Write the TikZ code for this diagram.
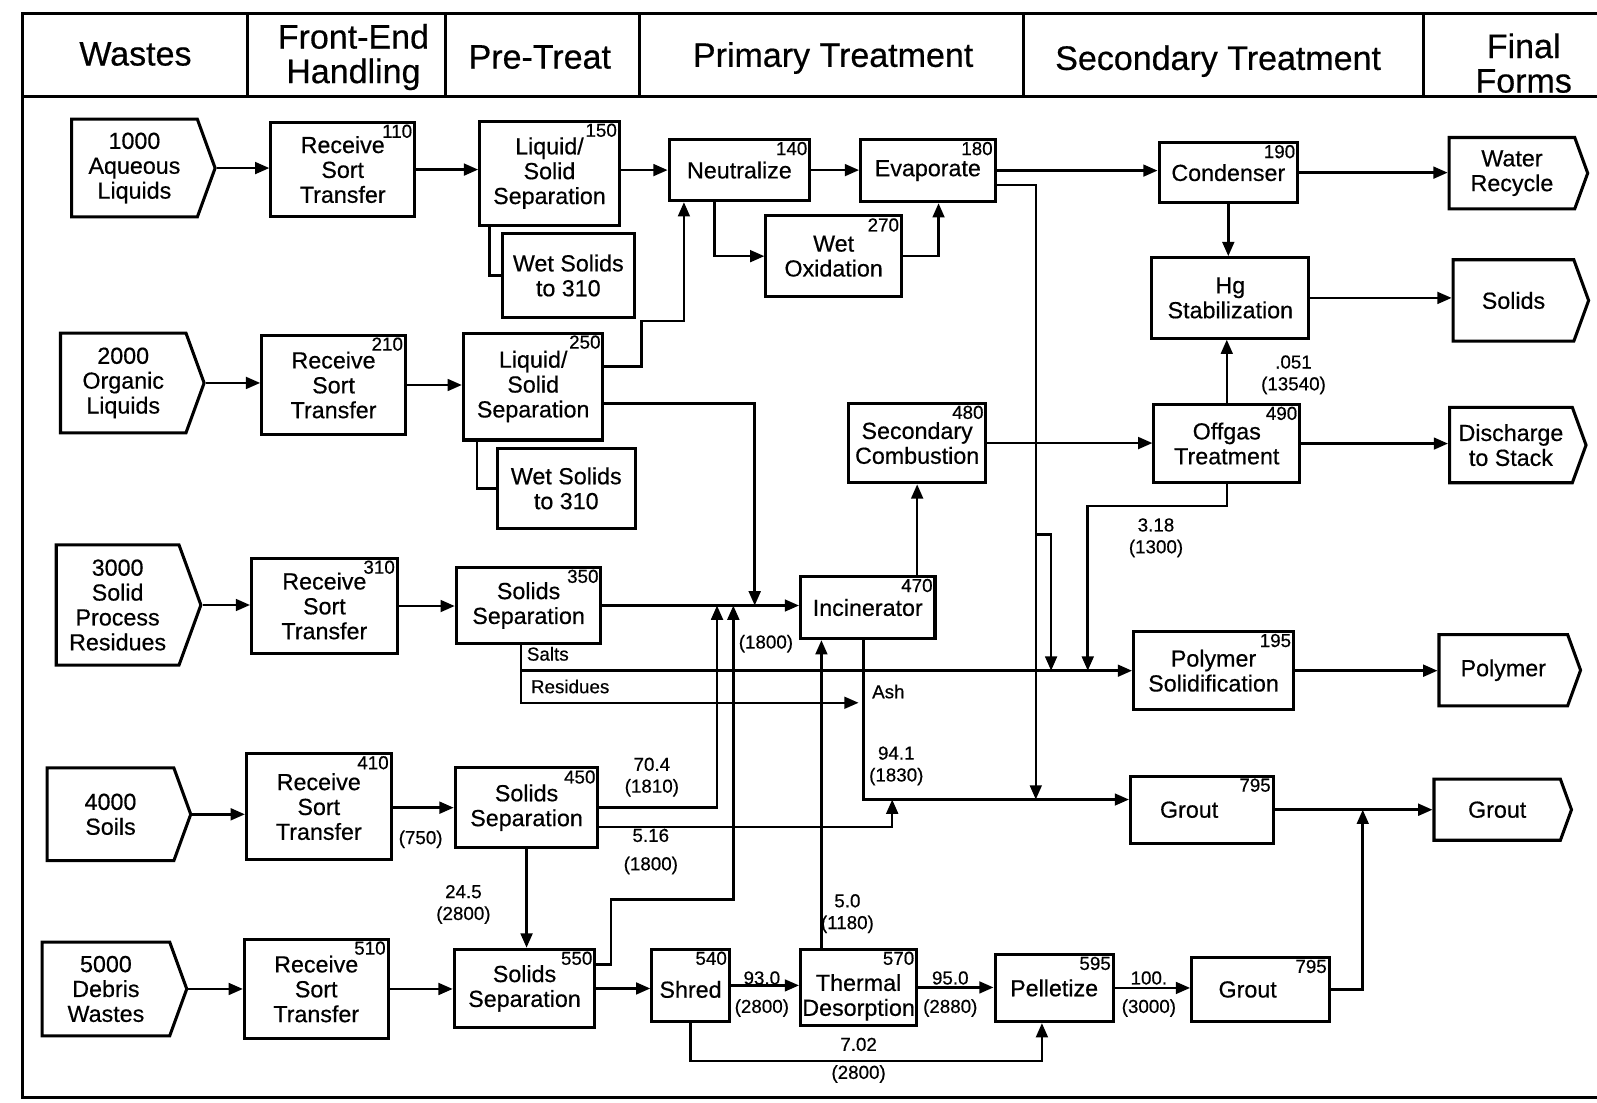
\documentclass[tikz,border=0pt]{standalone}
\usepackage{fontspec}
\setmainfont{Liberation Sans}[FakeBold=0.5]
\usetikzlibrary{shapes.symbols,arrows.meta}

\tikzset{
  box/.style={draw, line width=0.6mm, rectangle, align=center, inner sep=1pt,
    font=\fontsize{13}{13.9}\selectfont},
  ends/.style={draw, line width=0.6mm, signal, signal to=east, signal pointer angle=140,
    align=center, inner sep=1pt, font=\fontsize{13}{13.9}\selectfont},
  num/.style={anchor=north east, inner sep=2pt, font=\fontsize{10.5}{11}\selectfont},
  flow/.style={line width=0.5mm, -{Triangle[length=2.8mm,width=2.3mm]}},
  link/.style={line width=0.5mm},
  qty/.style={align=center, inner sep=0pt, font=\fontsize{10.5}{12.2}\selectfont},
  head/.style={align=center, font=\fontsize{19}{19.3}\selectfont},
}

\begin{document}
\begin{tikzpicture}[x=0.2mm, y=-0.2mm]
    \useasboundingbox (0,0) rectangle (1568,1082);

    % Frame and column heads
    \draw[line width=0.6mm] (1568,13) -- (22,13) -- (22,1078) -- (1568,1078);
    \draw[line width=0.6mm] (22,95) -- (1568,95);
    \foreach \xd in {243,437,628,1005,1398}
        \draw[line width=0.6mm] (\xd,13) -- (\xd,95);
    \node[head] (hwaste) at (133,53) {Wastes};
    \node[head] (hfront) at (347,56) {Front-End\\Handling};
    \node[head] (hpre) at (530,56) {Pre-Treat};
    \node[head] (hprim) at (818,57) {Primary Treatment};
    \node[head] (hsec) at (1196,60) {Secondary Treatment};
    \node[head] (hfin) at (1496,62) {Final\\Forms};

    % Wastes
    \node[ends, minimum width=28.2mm, minimum height=19.2mm] (src1) at (132,165) {1000\\Aqueous\\Liquids};
    \node[ends, minimum width=28.2mm, minimum height=19.6mm] (src2) at (121,376) {2000\\Organic\\Liquids};
    \node[ends, minimum width=28.4mm, minimum height=23.6mm] (src3) at (115.5,594) {3000\\Solid\\Process\\Residues};
    \node[ends, minimum width=28.2mm, minimum height=18.2mm] (src4) at (108.5,799.5) {4000\\Soils};
    \node[ends, minimum width=28.4mm, minimum height=18.4mm] (src5) at (104,971) {5000\\Debris\\Wastes};

    % Front-end handling
    \node[box, minimum width=28.2mm, minimum height=18.6mm, label={[num]north east:110}] (rcv110) at (336.5,166.5) {Receive\\Sort\\Transfer};
    \node[box, minimum width=28.2mm, minimum height=19.6mm, label={[num]north east:210}] (rcv210) at (327.5,378) {Receive\\Sort\\Transfer};
    \node[box, minimum width=28.6mm, minimum height=18.8mm, label={[num]north east:310}] (rcv310) at (318.5,595) {Receive\\Sort\\Transfer};
    \node[box, minimum width=28.4mm, minimum height=20.8mm, label={[num]north east:410}] (rcv410) at (313,792) {Receive\\Sort\\Transfer};
    \node[box, minimum width=28.2mm, minimum height=19.6mm, label={[num]north east:510}] (rcv510) at (310.5,971) {Receive\\Sort\\Transfer};

    % Pre-treat
    \node[box, minimum width=27.4mm, minimum height=20.4mm, label={[num]north east:150}] (sep150) at (539.5,170) {Liquid/\\Solid\\Separation};
    \node[box, minimum width=26mm, minimum height=16.6mm] (wet150) at (558,270.5) {Wet Solids\\to 310};
    \node[box, minimum width=27.4mm, minimum height=21mm, label={[num]north east:250}] (sep250) at (523.5,379.5) {Liquid/\\Solid\\Separation};
    \node[box, minimum width=27.2mm, minimum height=15.8mm] (wet250) at (556,479.5) {Wet Solids\\to 310};
    \node[box, minimum width=28.4mm, minimum height=15mm, label={[num]north east:350}] (sep350) at (519,594.5) {Solids\\Separation};
    \node[box, minimum width=28mm, minimum height=15.6mm, label={[num]north east:450}] (sep450) at (517,793) {Solids\\Separation};
    \node[box, minimum width=27.6mm, minimum height=15.4mm, label={[num]north east:550}] (sep550) at (515,970.5) {Solids\\Separation};

    % Primary treatment
    \node[box, minimum width=27.6mm, minimum height=12mm, label={[num]north east:140}] (neu140) at (726,167) {Neutralize};
    \node[box, minimum width=26.4mm, minimum height=12.2mm, label={[num]north east:180}] (evp180) at (911,167.5) {Evaporate};
    \node[box, minimum width=26.6mm, minimum height=15.8mm, label={[num]north east:270}] (wox270) at (818.5,251.5) {Wet\\Oxidation};
    \node[box, minimum width=27mm, minimum height=15.6mm, label={[num]north east:480}] (sec480) at (900.5,435) {Secondary\\Combustion};
    \node[box, minimum width=26.4mm, minimum height=12.2mm, label={[num]north east:470}] (inc470) at (852,596.5) {Incinerator};
    \node[box, minimum width=15.2mm, minimum height=14.2mm, label={[num]north east:540}] (shr540) at (678,967.5) {\\Shred};
    \node[box, minimum width=22.8mm, minimum height=15mm, label={[num]north east:570}] (thd570) at (843,969.5) {\rule{0pt}{7.2mm}Thermal\\Desorption};
    \node[box, minimum width=23.2mm, minimum height=13.2mm, label={[num]north east:595}] (pel595) at (1035,970) {Pelletize};

    % Secondary treatment
    \node[box, minimum width=27.2mm, minimum height=11.8mm, label={[num]north east:190}] (con190) at (1206,169.5) {Condenser};
    \node[box, minimum width=30.8mm, minimum height=15.8mm] (hgs) at (1208,292.5) {Hg\\Stabilization};
    \node[box, minimum width=28.6mm, minimum height=15.4mm, label={[num]north east:490}] (off490) at (1204.5,435.5) {Offgas\\Treatment};
    \node[box, minimum width=31.4mm, minimum height=15.4mm, label={[num]north east:195}] (pol195) at (1191.5,658.5) {Polymer\\Solidification};
    \node[box, minimum width=28mm, minimum height=13.2mm, label={[num]north east:795}] (gro795) at (1180,795) {Grout\hspace{5mm}};
    \node[box, minimum width=27mm, minimum height=12.6mm, label={[num]north east:795}] (grb795) at (1237.5,971.5) {Grout\hspace{5mm}};

    % Final forms
    \node[ends, minimum width=27.2mm, minimum height=14mm] (outw) at (1484.5,170) {Water\\Recycle};
    \node[ends, minimum width=26.6mm, minimum height=16mm] (outs) at (1486,295) {Solids};
    \node[ends, minimum width=26.8mm, minimum height=14.8mm] (outd) at (1483.5,437) {Discharge\\to Stack};
    \node[ends, minimum width=27.8mm, minimum height=14mm] (outp) at (1476,658) {Polymer};
    \node[ends, minimum width=27mm, minimum height=12mm] (outg) at (1470,795) {Grout};

    % Bend points
    \coordinate (evx) at (1017,525);
    \coordinate (evy) at (1032,525);
    \coordinate (ogx) at (1068,497);
    \coordinate (orgup) at (630,315);
    \coordinate (orgdn) at (741,0);
    \coordinate (ashin) at (843,690);
    \coordinate (groin) at ([yshift=2mm]gro795.west);
    \coordinate (up1) at (704,0);
    \coordinate (up2) at (720,0);
    \coordinate (up3) at (876,0);
    \coordinate (dn5) at (600,883);
    \coordinate (grx) at (1338,0);

    % Aqueous liquids
    \draw[flow] (src1.east) -- (src1.east -| rcv110.west);
    \draw[flow] (rcv110.east) -- (rcv110.east -| sep150.west);
    \draw[flow] (neu140.west -| sep150.east) -- (neu140.west);
    \draw[link] ([xshift=2.2mm]sep150.south west) |- (wet150.west);
    \draw[flow] (neu140.east) -- (neu140.east -| evp180.west);
    \draw[flow] ([xshift=9.2mm]neu140.south west) |- (wox270.west);
    \draw[flow] (wox270.east) -| ([xshift=15.6mm]evp180.south west);
    \draw[flow] (evp180.east) -- (evp180.east -| con190.west);
    \draw[flow] ([yshift=-2.8mm]evp180.east) -| (evx |- groin);
    \draw[flow] (evx) -| (evy |- pol195.west);
    \draw[flow] (con190.east) -- (con190.east -| outw.west);
    \draw[flow] (con190.south) -- (con190.south |- hgs.north);
    \draw[flow] (hgs.east) -- (hgs.east -| outs.west);

    % Organic liquids
    \draw[flow] (src2.east) -- (src2.east -| rcv210.west);
    \draw[flow] (rcv210.east) -- (rcv210.east -| sep250.west);
    \draw[link] ([xshift=3mm]sep250.south west) |- (wet250.west);
    \draw[flow] ([yshift=3.9mm]sep250.east) -| (orgup) -| ([xshift=3.2mm]neu140.south west);
    \draw[flow] ([yshift=-3.3mm]sep250.east) -| (orgdn |- sep350.east);

    % Solid process residues
    \draw[flow] (src3.east) -- (src3.east -| rcv310.west);
    \draw[flow] (rcv310.east) -- (rcv310.east -| sep350.west);
    \draw[flow] (sep350.east) -- (sep350.east -| inc470.west);
    \draw[flow] ([xshift=13mm]sep350.south west) |- (pol195.west);
    \draw[flow] ([xshift=13mm]sep350.south west) |- (ashin);
    \draw[flow] (inc470.north -| sec480.south) -- (sec480.south);
    \draw[flow] ([xshift=-0.8mm]inc470.south) |- (groin);
    \draw[flow] (sec480.east) -- (sec480.east -| off490.west);
    \draw[flow] (off490.east) -- (off490.east -| outd.west);
    \draw[flow] (off490.north) -- (off490.north |- hgs.south);
    \draw[flow] (off490.south) |- (ogx) -- (ogx |- pol195.west);
    \draw[flow] (pol195.east) -- (pol195.east -| outp.west);

    % Soils
    \draw[flow] (src4.east) -- (src4.east -| rcv410.west);
    \draw[flow] (sep450.west -| rcv410.east) -- (sep450.west);
    \draw[flow] (sep450.east) -| (up1 |- sep350.east);
    \draw[flow] ([yshift=-3.8mm]sep450.east) -| (up3 |- groin);
    \draw[flow] (sep450.south) -- (sep450.south |- sep550.north);
    \draw[flow] (gro795.east) -- (gro795.east -| outg.west);

    % Debris wastes
    \draw[flow] (src5.east) -- (src5.east -| rcv510.west);
    \draw[flow] (rcv510.east) -- (rcv510.east -| sep550.west);
    \draw[flow] (sep550.east) -- (sep550.east -| shr540.west);
    \draw[flow] ([yshift=4.7mm]sep550.east) -| (dn5) -| (up2 |- sep350.east);
    \draw[flow] (shr540.east) -- (shr540.east -| thd570.west);
    \draw[flow] (thd570.east) -- (thd570.east -| pel595.west);
    \draw[flow] (pel595.east) -- (pel595.east -| grb795.west);
    \draw[flow] ([xshift=4.4mm]thd570.north west) -- ([xshift=4.4mm]thd570.north west |- inc470.south);
    \draw[flow] (shr540.south) -- ++(0,37) -| ([xshift=-2.4mm]pel595.south);
    \draw[flow] (grb795.east) -| (grx |- gro795.east);

    % Stream quantities
    \node[qty] (q490a) at (1270,368) {.051\\(13540)};
    \node[qty] (q490b) at (1135,528) {3.18\\(1300)};
    \node[qty] (q350) at (752,632) {(1800)};
    \node[qty, anchor=west] (salts) at (517,642) {Salts};
    \node[qty, anchor=west] (resid) at (521,674) {Residues};
    \node[qty, anchor=west] (ash) at (856,679) {Ash};
    \node[qty] (q450a) at (640,763) {70.4\\(1810)};
    \node[qty] (q470) at (880,752) {94.1\\(1830)};
    \node[qty] (q410) at (413,824) {(750)};
    \node[qty] (q450b) at (639,836) {5.16\\[1.3mm](1800)};
    \node[qty] (q450c) at (455,888) {24.5\\(2800)};
    \node[qty] (q570a) at (832,897) {5.0\\(1180)};
    \node[qty] (q540a) at (748,976) {93.0\\[1.3mm](2800)};
    \node[qty] (q570b) at (933,976) {95.0\\[1.3mm](2880)};
    \node[qty] (q595) at (1128,976) {100.\\[1.3mm](3000)};
    \node[qty] (q540b) at (843,1041) {7.02\\[1.2mm](2800)};
\end{tikzpicture}
\end{document}
